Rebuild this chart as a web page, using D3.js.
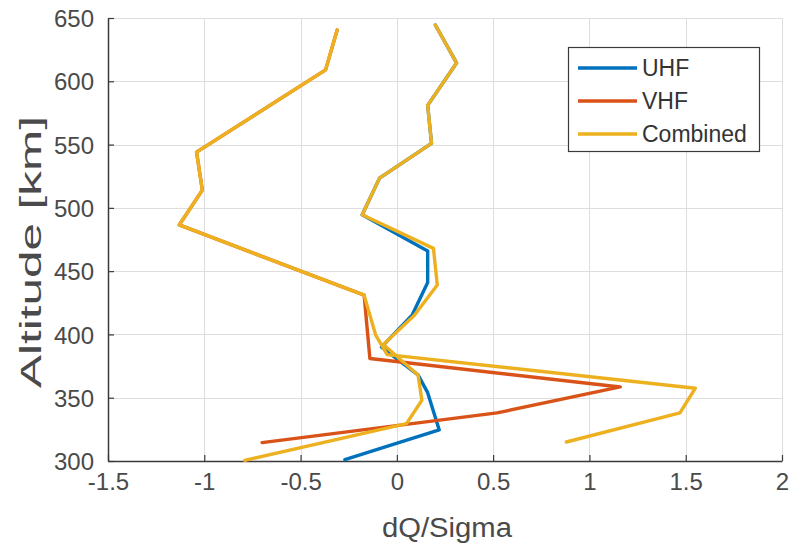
<!DOCTYPE html>
<html>
<head>
<meta charset="utf-8">
<script src="https://cdn.jsdelivr.net/npm/d3@7"></script>
<style>
  html, body { margin: 0; padding: 0; background: #fff; }
  svg { display: block; }
  text { font-family: "Liberation Sans", Arial, Helvetica, sans-serif; }
</style>
</head>
<body>
<div id="chart"></div>
<script>
// Series names and colours (legend order)
const seriesNames = ["UHF", "VHF", "Combined"];
const seriesColors = ["#0072BD", "#D95319", "#EDB120"];

// Axis ticks
const xTicks = [-1.5, -1, -0.5, 0, 0.5, 1, 1.5, 2];
const xTickLabels = ["-1.5", "-1", "-0.5", "0", "0.5", "1", "1.5", "2"];
const yTicks = [300, 350, 400, 450, 500, 550, 600, 650];
const yTickLabels = ["300", "350", "400", "450", "500", "550", "600", "650"];

// Profiles: [dQ/Sigma, altitude km]
const uhfProfile = [
  [0.20, 644.5], [0.31, 614.5], [0.16, 581], [0.18, 551], [-0.09, 523.5],
  [-0.18, 494.5], [0.16, 466], [0.16, 441], [0.08, 415.5], [-0.08, 390],
  [0.11, 368], [0.16, 354], [0.22, 324.5], [-0.27, 301]
];
const vhfProfile = [
  [-0.31, 640.5], [-0.37, 609], [-1.04, 544], [-1.01, 514], [-1.13, 486.5],
  [-0.17, 431], [-0.14, 381], [1.16, 358.5], [0.52, 338], [-0.70, 314.5]
];
const combinedProfile1 = [
  [-0.31, 640.5], [-0.37, 609], [-1.04, 544], [-1.01, 514], [-1.13, 486.5],
  [-0.17, 431], [-0.11, 399.5], [-0.05, 384], [1.55, 357.5], [1.47, 338],
  [0.88, 315]
];
const combinedProfile2 = [
  [0.20, 644.5], [0.31, 614.5], [0.16, 581], [0.18, 551], [-0.09, 523.5],
  [-0.18, 494.5], [0.19, 468], [0.21, 439], [0.09, 415], [-0.07, 392],
  [0.11, 368], [0.13, 348], [0.05, 329.5], [-0.79, 300.5]
];

// Lines drawn in this order; later ones sit on top
const profiles = [
  { series: 0, points: uhfProfile },
  { series: 1, points: vhfProfile },
  { series: 2, points: combinedProfile1 },
  { series: 2, points: combinedProfile2 }
];

const W = 792, H = 547;
const plot = { left: 108, right: 782, top: 18, bottom: 461 };

const svg = d3.select("#chart").append("svg")
  .attr("width", W).attr("height", H);

const x = d3.scaleLinear().domain([-1.5, 2]).range([plot.left, plot.right]);
const y = d3.scaleLinear().domain([300, 650]).range([plot.bottom, plot.top]);

// Grid
const grid = svg.append("g").attr("stroke", "#dedede").attr("stroke-width", 1);
grid.selectAll("line.gx").data(xTicks.slice(1)).join("line")
  .attr("class", "gx")
  .attr("x1", d => Math.round(x(d)) + 0.5).attr("x2", d => Math.round(x(d)) + 0.5)
  .attr("y1", plot.top).attr("y2", plot.bottom);
grid.selectAll("line.gy").data(yTicks.slice(1)).join("line")
  .attr("class", "gy")
  .attr("y1", d => Math.round(y(d)) + 0.5).attr("y2", d => Math.round(y(d)) + 0.5)
  .attr("x1", plot.left).attr("x2", plot.right);

// Axes with inward ticks
const axisColor = "#3a3a3a";
const xAxis = d3.axisBottom(x).tickValues(xTicks)
  .tickFormat((d, i) => xTickLabels[i]).tickSizeInner(-6).tickSizeOuter(0).tickPadding(12);
const yAxis = d3.axisLeft(y).tickValues(yTicks)
  .tickFormat((d, i) => yTickLabels[i]).tickSizeInner(-6).tickSizeOuter(0).tickPadding(14);

const gx = svg.append("g").attr("transform", `translate(0,${plot.bottom})`).call(xAxis);
const gy = svg.append("g").attr("transform", `translate(${plot.left},0)`).call(yAxis);
[gx, gy].forEach(g => {
  g.select(".domain").attr("stroke", axisColor).attr("stroke-width", 1.5);
  g.selectAll(".tick line").attr("stroke", axisColor).attr("stroke-width", 1.2);
  g.selectAll(".tick text")
    .attr("fill", "#4a4a4a")
    .style("font-family", "'Liberation Sans', Arial, sans-serif")
    .style("font-size", "24px");
});
gx.selectAll(".tick text").attr("dy", "0.71em");
gy.selectAll(".tick text").attr("dy", "0.36em");

// Profile lines
const line = d3.line().x(d => x(d[0])).y(d => y(d[1]));
svg.append("g").selectAll("path").data(profiles).join("path")
  .attr("d", d => line(d.points))
  .attr("fill", "none")
  .attr("stroke", d => seriesColors[d.series])
  .attr("stroke-width", 3.4)
  .attr("stroke-linejoin", "round")
  .attr("stroke-linecap", "round");

// Axis titles
svg.append("text")
  .attr("x", (plot.left + plot.right) / 2 + 2).attr("y", 537)
  .attr("text-anchor", "middle")
  .attr("fill", "#4a4a4a")
  .style("font-size", "27px")
  .attr("textLength", 130).attr("lengthAdjust", "spacingAndGlyphs")
  .text("dQ/Sigma");

svg.append("text")
  .attr("transform", `translate(41,${252}) rotate(-90)`)
  .attr("text-anchor", "middle")
  .attr("fill", "#4a4a4a")
  .style("font-size", "29px")
  .attr("textLength", 272).attr("lengthAdjust", "spacingAndGlyphs")
  .text("Altitude [km]");

// Legend
const legend = svg.append("g");
legend.append("rect")
  .attr("x", 568.5).attr("y", 47.5).attr("width", 191).attr("height", 104)
  .attr("fill", "#fff").attr("stroke", "#3a3a3a").attr("stroke-width", 1.2);
const rowY = [68, 101, 134];
const items = legend.selectAll("g.item").data(seriesNames).join("g")
  .attr("class", "item")
  .attr("transform", (d, i) => `translate(0,${rowY[i]})`);
items.append("line")
  .attr("x1", 578).attr("x2", 637).attr("y1", 0).attr("y2", 0)
  .attr("stroke", (d, i) => seriesColors[i]).attr("stroke-width", 3.4);
items.append("text")
  .attr("x", 642).attr("dy", "0.36em")
  .attr("fill", "#333")
  .style("font-size", "23px")
  .text(d => d);
</script>
</body>
</html>
